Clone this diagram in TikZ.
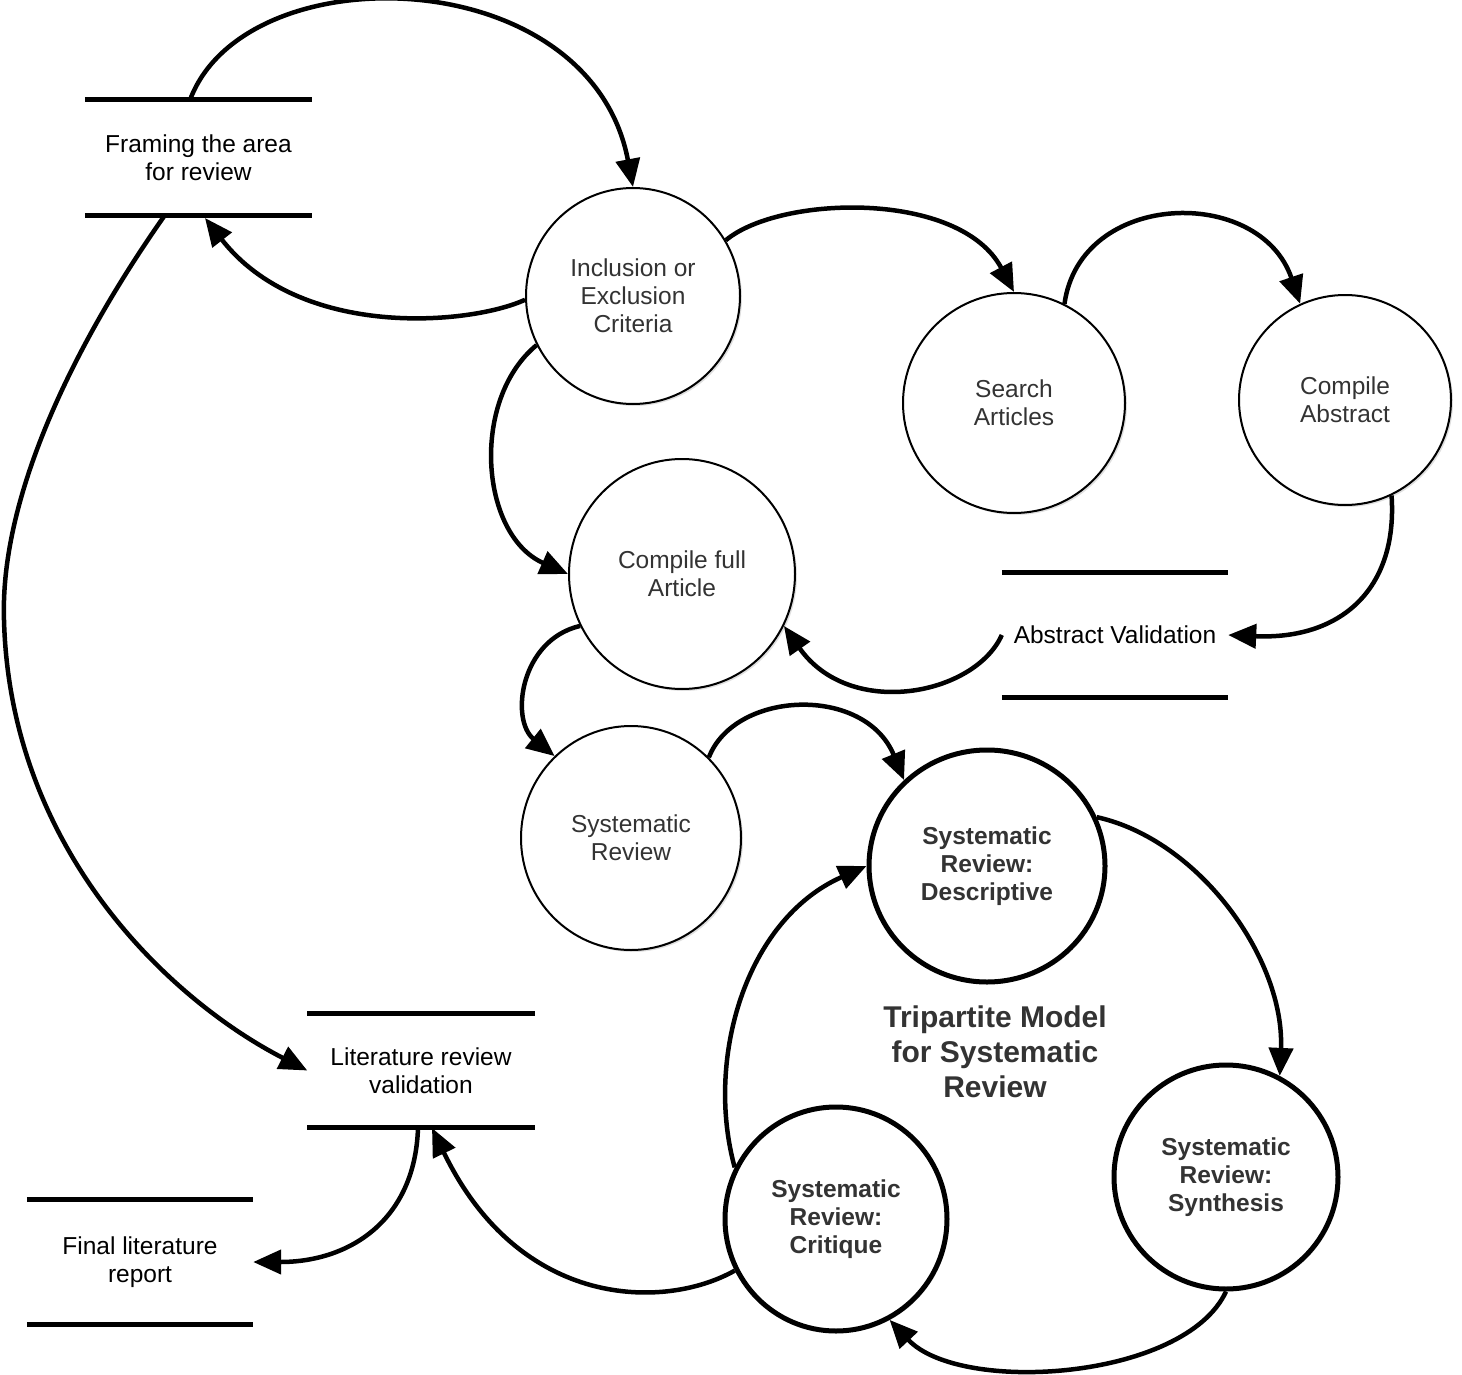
\documentclass[tikz,border=0pt]{standalone}
\usepackage{fontspec}
\setmainfont{Liberation Sans}
\usetikzlibrary{shapes.geometric,arrows.meta,shadows}
\definecolor{txtgray}{HTML}{333333}
\begin{document}
\begin{tikzpicture}[x=1pt,y=-1pt,
  proc/.style={ellipse, draw=black, line width=2pt, fill=white, inner sep=0pt,
    align=center, text=txtgray, font=\fontsize{24.5}{28}\selectfont,
    drop shadow={shadow xshift=2pt, shadow yshift=-2pt, opacity=0.25}},
  thickproc/.style={proc, line width=5pt, font=\fontsize{24.5}{28}\selectfont\bfseries},
  store/.style={draw=none, inner sep=0pt, align=center, text=black,
    font=\fontsize{24.5}{28}\selectfont},
  storeline/.style={line width=5pt},
  flow/.style={line width=4.5pt, -{Triangle[length=28pt,width=24pt]}},
]
\useasboundingbox (0,0) rectangle (1462,1375);

% processes
\node[proc, minimum width=214pt, minimum height=216pt] (incl) at (633,296) {Inclusion or\\Exclusion\\Criteria};
\node[proc, minimum width=222pt, minimum height=220pt] (search) at (1014,403) {Search\\Articles};
\node[proc, minimum width=212pt, minimum height=210pt] (cabs) at (1345,400) {Compile\\Abstract};
\node[proc, minimum width=226pt, minimum height=230pt] (cfa) at (682,574) {Compile full\\Article};
\node[proc, minimum width=220pt, minimum height=224pt] (sr) at (631,838) {Systematic\\Review};
\node[thickproc, minimum width=236pt, minimum height=232pt] (desc) at (987,866) {Systematic\\Review:\\Descriptive};
\node[thickproc, minimum width=224pt, minimum height=224pt] (syn) at (1226,1177) {Systematic\\Review:\\Synthesis};
\node[thickproc, minimum width=222pt, minimum height=224pt] (crit) at (836,1219) {Systematic\\Review:\\Critique};

% data stores
\node[store, minimum width=227pt, minimum height=115pt] (framing) at (198.5,157.5) {Framing the area\\for review};
\node[store, minimum width=226pt, minimum height=124pt] (absval) at (1115,635) {Abstract Validation};
\node[store, minimum width=227pt, minimum height=113pt] (litval) at (421,1070.5) {Literature review\\validation};
\node[store, minimum width=226pt, minimum height=124pt] (final) at (140,1262) {Final literature\\report};
\foreach \s in {framing,absval,litval,final}{
  \draw[storeline] (\s.north west) -- (\s.north east);
  \draw[storeline] (\s.south west) -- (\s.south east);
}

% title
\node[align=center, text=txtgray, font=\fontsize{30}{35}\selectfont\bfseries] (title) at (995,1052)
  {Tripartite Model\\for Systematic\\Review};

% attachment points on stores
\coordinate (frTop) at (190,100);
\coordinate (frIn) at (205,218);
\coordinate (frOut) at (165,215);
\coordinate (lvIn) at (432,1128);
\coordinate (lvOut) at (418,1128);

% flows
\draw[flow] (frTop) .. controls (245,-48) and (590,-40) .. (incl.north);
\draw[flow] (incl.182) .. controls (470,325) and (300,340) .. (frIn);
\draw[flow] (frOut) .. controls (70,350) and (0,500) .. (4,620)
   .. controls (10,850) and (170,1000) .. (litval.west);
\draw[flow] (incl.31) .. controls (780,195) and (960,190) .. (search.north);
\draw[flow] (search.63) .. controls (1080,190) and (1260,185) .. (cabs.115);
\draw[flow] (cabs.-64) .. controls (1398,590) and (1340,640) .. (absval.east);
\draw[flow] (absval.west) .. controls (975,695) and (850,720) .. (cfa.-27);
\draw[flow] (incl.207) .. controls (470,400) and (480,535) .. (cfa.west);
\draw[flow] (cfa.207) .. controls (520,640) and (510,720) .. (sr.133);
\draw[flow] (sr.46) .. controls (735,690) and (865,685) .. (desc.134);
\draw[flow] (desc.24) .. controls (1200,840) and (1285,960) .. (syn.62);
\draw[flow] (syn.south) .. controls (1185,1380) and (960,1395) .. (crit.-62);
\draw[flow] (crit.153) .. controls (705,1060) and (745,920) .. (desc.west);
\draw[flow] (crit.207) .. controls (665,1310) and (520,1310) .. (lvIn);
\draw[flow] (lvOut) .. controls (415,1220) and (350,1262) .. (final.east);
\end{tikzpicture}
\end{document}
